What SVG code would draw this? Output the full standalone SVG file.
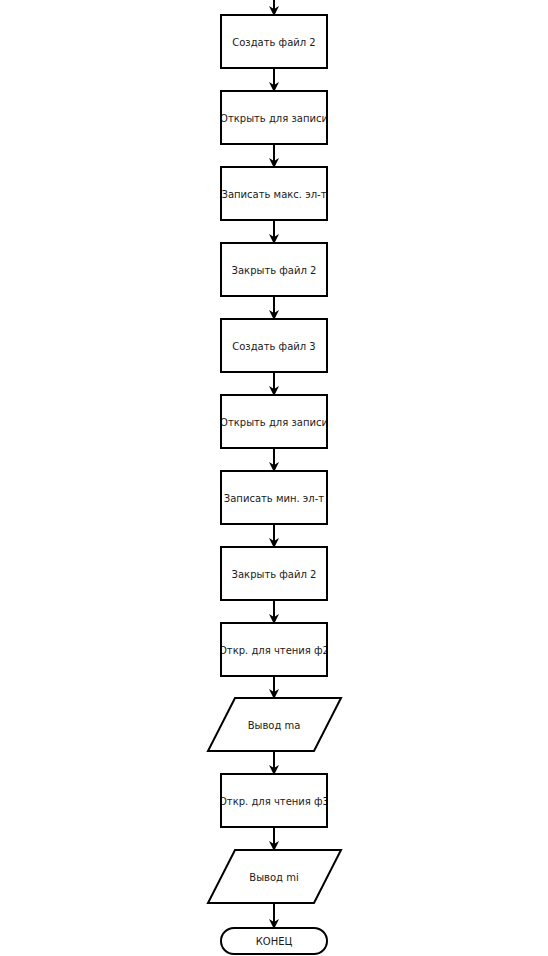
<svg xmlns="http://www.w3.org/2000/svg" width="548" height="956" viewBox="0 0 548 956">
<style>
.n{fill:#fff;stroke:#000;stroke-width:2}
.t{font-family:"DejaVu Sans",sans-serif;font-size:10px;fill:#1a1a1a;text-anchor:middle;dominant-baseline:central}
.c{stroke:#000;stroke-width:2;fill:none;marker-end:url(#a)}
</style>
<defs>
<marker id="a" markerWidth="10" markerHeight="12" refX="9" refY="5" orient="auto" markerUnits="userSpaceOnUse" viewBox="0 0 10 10">
<path d="M0,0 L10,5 L0,10 L3,5 Z" fill="#000"/>
</marker>
<clipPath id="bx"><rect x="222" y="0" width="104" height="956"/></clipPath>
</defs>
<rect width="548" height="956" fill="#fff"/>
<g id="connectors">
<path class="c" d="M274,0 V15"/>
<path class="c" d="M274,68 V91"/>
<path class="c" d="M274,144 V167"/>
<path class="c" d="M274,220 V243"/>
<path class="c" d="M274,296 V319"/>
<path class="c" d="M274,372 V395"/>
<path class="c" d="M274,448 V471"/>
<path class="c" d="M274,524 V547"/>
<path class="c" d="M274,600 V623"/>
<path class="c" d="M274,676 V698"/>
<path class="c" d="M274,751 V774"/>
<path class="c" d="M274,827 V850"/>
<path class="c" d="M274,903 V928"/>
</g>
<g id="n1"><rect class="n" x="221" y="15" width="106" height="53"/><text class="t" x="274" y="42" clip-path="url(#bx)">Создать файл 2</text></g>
<g id="n2"><rect class="n" x="221" y="91" width="106" height="53"/><text class="t" x="274" y="118" clip-path="url(#bx)">Открыть для записи</text></g>
<g id="n3"><rect class="n" x="221" y="167" width="106" height="53"/><text class="t" x="274" y="194" clip-path="url(#bx)">Записать макс. эл-т</text></g>
<g id="n4"><rect class="n" x="221" y="243" width="106" height="53"/><text class="t" x="274" y="270" clip-path="url(#bx)">Закрыть файл 2</text></g>
<g id="n5"><rect class="n" x="221" y="319" width="106" height="53"/><text class="t" x="274" y="346" clip-path="url(#bx)">Создать файл 3</text></g>
<g id="n6"><rect class="n" x="221" y="395" width="106" height="53"/><text class="t" x="274" y="422" clip-path="url(#bx)">Открыть для записи</text></g>
<g id="n7"><rect class="n" x="221" y="471" width="106" height="53"/><text class="t" x="274" y="498" clip-path="url(#bx)">Записать мин. эл-т</text></g>
<g id="n8"><rect class="n" x="221" y="547" width="106" height="53"/><text class="t" x="274" y="574" clip-path="url(#bx)">Закрыть файл 2</text></g>
<g id="n9"><rect class="n" x="221" y="623" width="106" height="53"/><text class="t" x="274" y="650" clip-path="url(#bx)">Откр. для чтения ф2</text></g>
<g id="n10"><polygon class="n" points="235,698 341,698 314,751 208,751"/><text class="t" x="274" y="725">Вывод ma</text></g>
<g id="n11"><rect class="n" x="221" y="774" width="106" height="53"/><text class="t" x="274" y="801" clip-path="url(#bx)">Откр. для чтения ф3</text></g>
<g id="n12"><polygon class="n" points="235,850 341,850 314,903 208,903"/><text class="t" x="274" y="877">Вывод mi</text></g>
<g id="n13"><rect class="n" x="221" y="928" width="106" height="26" rx="13" ry="13"/><text class="t" x="274" y="941">КОНЕЦ</text></g>
</svg>
